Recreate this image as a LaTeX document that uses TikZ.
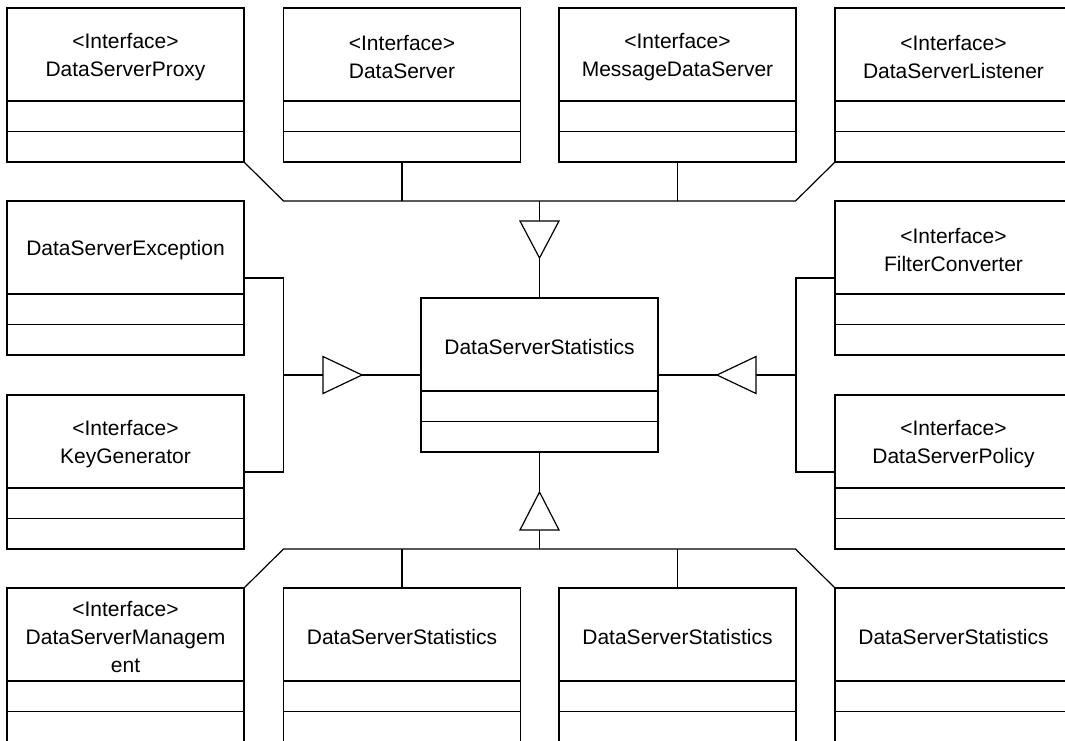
\documentclass[tikz,border=0pt]{standalone}
\usepackage{fontspec}
\setmainfont{Liberation Sans}
\usetikzlibrary{calc}
\newcommand\umlbox[4]{%
  \node[classbox] (#1) at ({#2+118.5},{#3+77}) {};
  \draw ($(#1.north west)+(0,93)$) -- ($(#1.north east)+(0,93)$);
  \draw ($(#1.north west)+(0,123.5)$) -- ($(#1.north east)+(0,123.5)$);
  \node[classtext] (#1-t) at ($(#1.north)+(0,49)$) {#4};
}
\begin{document}
\begin{tikzpicture}[x=1pt,y=-1pt,line width=1.2pt,
  classbox/.style={draw,rectangle,minimum width=237pt,minimum height=154pt,inner sep=0pt,outer sep=0pt},
  classtext/.style={align=center,inner sep=0pt,font=\fontsize{21}{28}\selectfont},
  gtri/.style={draw,fill=white,line join=miter}]
\useasboundingbox (0,0) rectangle (1065,741);
\clip (0,0) rectangle (1065,741);
\fill[white] (0,0) rectangle (1065,741);
% row 1
\umlbox{proxy}{7}{8}{<Interface>\\DataServerProxy}
\umlbox{ds}{283.5}{8}{<Interface>\\DataServer}
\umlbox{mds}{559}{8}{<Interface>\\MessageDataServer}
\umlbox{listener}{835}{8}{<Interface>\\DataServerListener}
% row 2
\umlbox{exc}{7}{201}{DataServerException}
\umlbox{filt}{835}{201}{<Interface>\\FilterConverter}
% centre
\umlbox{stats}{421}{298}{DataServerStatistics}
% row 3
\umlbox{key}{7}{395}{<Interface>\\KeyGenerator}
\umlbox{pol}{835}{395}{<Interface>\\DataServerPolicy}
% row 4
\umlbox{mgmt}{7}{588}{<Interface>\\DataServerManagem\\ent}
\umlbox{st1}{283.5}{588}{DataServerStatistics}
\umlbox{st2}{559}{588}{DataServerStatistics}
\umlbox{st3}{835}{588}{DataServerStatistics}
% top bus
\coordinate (tbL) at (283.5,201);
\coordinate (tbR) at (795.5,201);
\draw (proxy.south east) -- (tbL) -- (tbR) -- (listener.south west);
\draw (ds.south) -- (ds.south |- tbL);
\draw (mds.south) -- (mds.south |- tbL);
\draw (stats.north) -- (stats.north |- tbL);
% left bus
\coordinate (lbus) at ($(exc.east)+(39.5,0)$);
\draw (exc.east) -- (lbus) |- (key.east);
\draw (stats.west) -- (stats.west -| lbus);
% right bus
\coordinate (rbus) at ($(filt.west)+(-39,0)$);
\draw (filt.west) -- (rbus) |- (pol.west);
\draw (stats.east) -- (stats.east -| rbus);
% bottom bus
\coordinate (bbL) at (283.5,549);
\coordinate (bbR) at (795.5,549);
\draw (mgmt.north east) -- (bbL) -- (bbR) -- (st3.north west);
\draw (st1.north) -- (st1.north |- bbL);
\draw (st2.north) -- (st2.north |- bbL);
\draw (stats.south) -- (stats.south |- bbL);
% generalization triangles
\draw[gtri] ($(stats.north)+(-19.5,-77)$) -- ($(stats.north)+(19.5,-77)$) -- ($(stats.north)+(0,-40)$) -- cycle;
\draw[gtri] ($(stats.south)+(-19.5,78)$) -- ($(stats.south)+(19.5,78)$) -- ($(stats.south)+(0,40)$) -- cycle;
\draw[gtri] ($(stats.west)+(-98,-18.5)$) -- ($(stats.west)+(-98,18.5)$) -- ($(stats.west)+(-59,0)$) -- cycle;
\draw[gtri] ($(stats.east)+(98,-18.5)$) -- ($(stats.east)+(98,18.5)$) -- ($(stats.east)+(59,0)$) -- cycle;
\end{tikzpicture}
\end{document}
